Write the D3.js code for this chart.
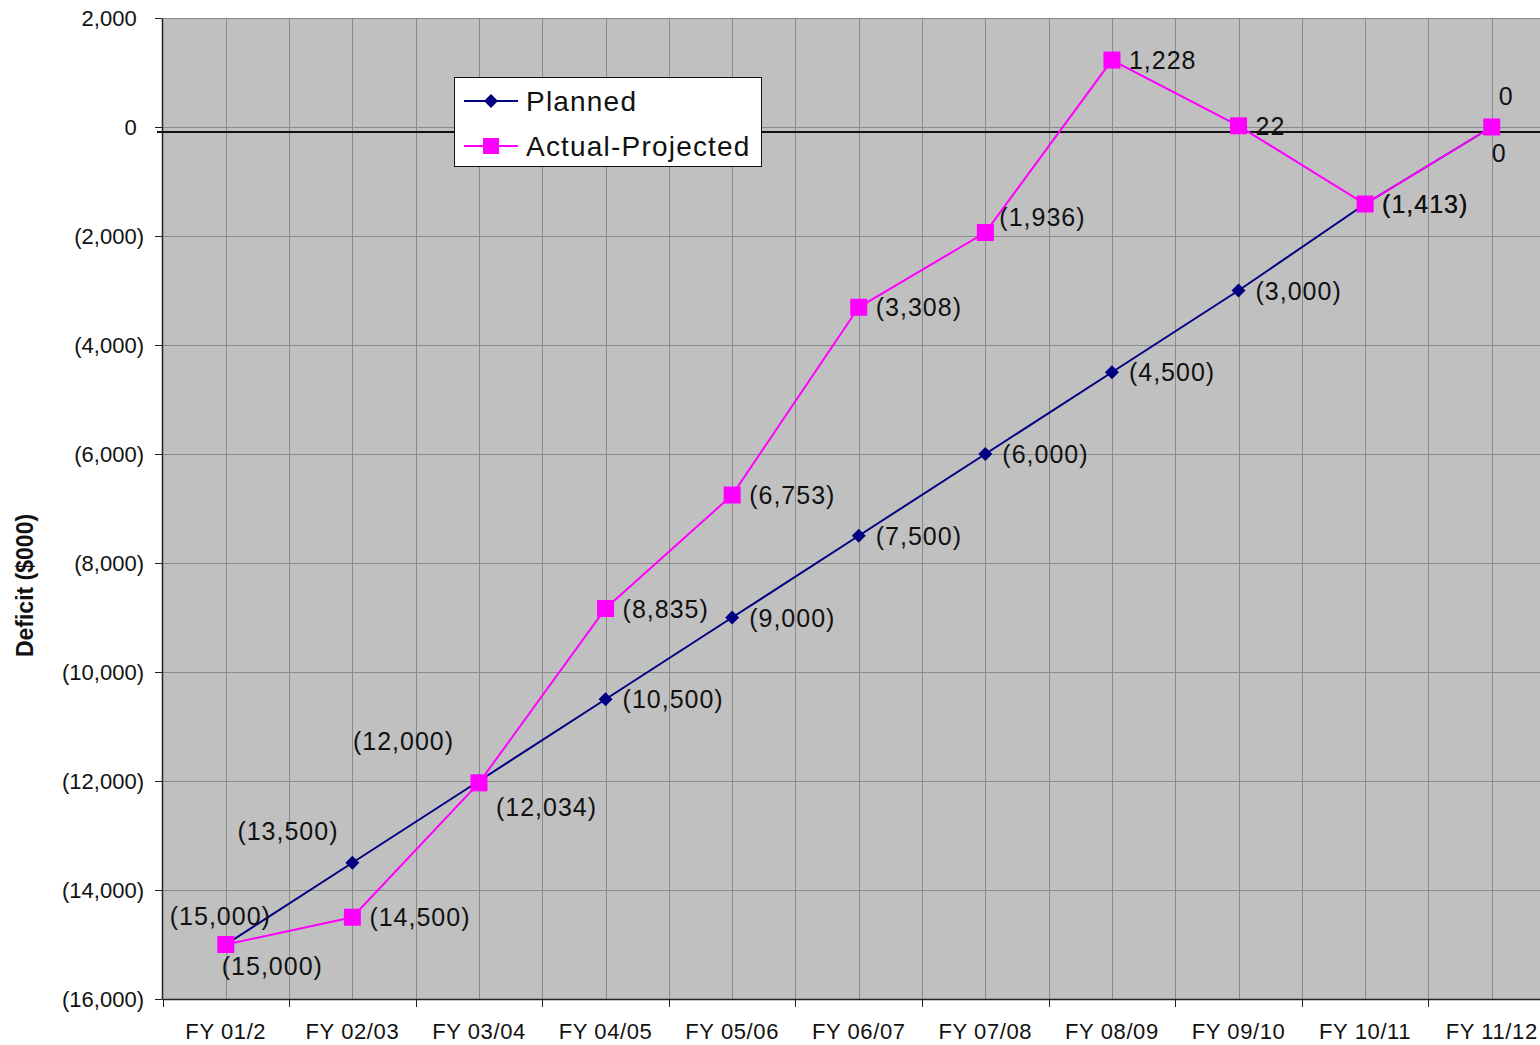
<!DOCTYPE html>
<html>
<head>
<meta charset="utf-8">
<script src="https://cdn.jsdelivr.net/npm/d3@7"></script>
<style>
  html, body { margin: 0; padding: 0; background: #fff; overflow: hidden; }
  svg { display: block; font-family: "Liberation Sans", Arial, sans-serif; }
</style>
</head>
<body>
<svg id="chart" width="1540" height="1045"></svg>
<script>
// ---- data ----
const categories = ["FY 01/2", "FY 02/03", "FY 03/04", "FY 04/05", "FY 05/06", "FY 06/07",
                    "FY 07/08", "FY 08/09", "FY 09/10", "FY 10/11", "FY 11/12"];
const planned = [-15000, -13500, -12000, -10500, -9000, -7500, -6000, -4500, -3000, -1413, 0];
const actualProjected = [-15000, -14500, -12034, -8835, -6753, -3308, -1936, 1228, 22, -1413, 0];
const yTicks = [2000, 0, -2000, -4000, -6000, -8000, -10000, -12000, -14000, -16000];
const seriesNames = ["Planned", "Actual-Projected"];
const yTitle = "Deficit ($000)";

// ---- label placement (style config, not data) ----
const plannedLabelOffsets = [[-56, -29], [-115, -32], [-126, -40], [17, 0], [17, 0], [17, 0],
                             [17, 0], [17, 0], [17, 0], [17, 0], [7, -31]];
const actualLabelOffsets = [[-4, 21], [17, 0], [17, 24], [17, 0], [17, 0], [17, 0],
                            [14, -16], [17, 0], [17, 0], [17, 0], [0, 26]];

(function () {
const svg = d3.select("#chart");
const pLeft = 162.5, pRight = 1555, pTop = 18, pBottom = 999;

const x = d3.scaleBand().domain(categories).range([pLeft, pRight]).paddingInner(0).paddingOuter(0);
const y = d3.scaleLinear().domain([-16000, 2000]).range([pBottom, pTop]);
const cx = c => x(c) + x.bandwidth() / 2;

const fmt = v => {
  const s = d3.format(",")(Math.abs(v));
  return v < 0 ? "(" + s + ")" : s;
};

// plot background
svg.append("rect").attr("x", 162).attr("y", pTop)
  .attr("width", pRight - 162).attr("height", pBottom - pTop).attr("fill", "#c0c0c0");

// horizontal gridlines
svg.append("g").selectAll("line").data(yTicks).join("line")
  .attr("x1", 162).attr("x2", pRight)
  .attr("y1", d => Math.round(y(d)) + 0.5).attr("y2", d => Math.round(y(d)) + 0.5)
  .attr("stroke", "#8a8a8a").attr("stroke-width", 1);

// vertical gridlines at category centres and boundaries
const vLines = [];
categories.forEach(c => { vLines.push(x(c)); vLines.push(cx(c)); });
svg.append("g").selectAll("line").data(vLines.filter(v => v > pLeft + 1)).join("line")
  .attr("x1", d => Math.round(d) + 0.5).attr("x2", d => Math.round(d) + 0.5)
  .attr("y1", pTop).attr("y2", pBottom)
  .attr("stroke", "#8a8a8a").attr("stroke-width", 1);

// y axis
const yAxis = d3.axisLeft(y).tickValues(yTicks).tickSize(7).tickSizeOuter(0).tickFormat("");
const gy = svg.append("g").attr("transform", `translate(162,0)`).call(yAxis);
gy.select(".domain").attr("stroke", "#222").attr("stroke-width", 1.5);
gy.selectAll(".tick line").attr("stroke", "#222");
// y tick labels (positive numbers padded by an invisible ')' like Excel's _) format)
const yl = svg.append("g").selectAll("text").data(yTicks).join("text")
  .attr("x", 144).attr("y", d => y(d) + 8)
  .attr("text-anchor", "end").attr("font-size", 22).attr("fill", "#111");
yl.append("tspan").text(d => fmt(d));
yl.filter(d => d >= 0).append("tspan").attr("fill-opacity", 0).text(")");

// x axis
const xAxis = d3.axisBottom(x).tickSize(0).tickSizeOuter(0).tickFormat("");
const gx = svg.append("g").attr("transform", `translate(0,${pBottom})`).call(xAxis);
gx.select(".domain").attr("stroke", "#222").attr("stroke-width", 1.5);
svg.append("g").selectAll("line").data(categories).join("line")
  .attr("x1", d => Math.round(x(d)) + 0.5).attr("x2", d => Math.round(x(d)) + 0.5)
  .attr("y1", pBottom).attr("y2", pBottom + 8).attr("stroke", "#222");
svg.append("g").selectAll("text").data(categories).join("text")
  .attr("x", d => cx(d)).attr("y", 1039)
  .attr("text-anchor", "middle").attr("font-size", 22).attr("letter-spacing", 0.6)
  .attr("fill", "#111")
  .text(d => d);

// zero reference line (black)
svg.append("line").attr("x1", 157).attr("x2", pRight)
  .attr("y1", y(0) + 5).attr("y2", y(0) + 5)
  .attr("stroke", "#111").attr("stroke-width", 2);

// y title
svg.append("text")
  .attr("transform", `translate(33,${(pTop + pBottom) / 2 + 77}) rotate(-90)`)
  .attr("text-anchor", "middle").attr("font-size", 23).attr("font-weight", "bold")
  .attr("fill", "#111").text(yTitle);

// series
const line = d3.line().x((d, i) => cx(categories[i])).y(d => y(d));

const navy = "#000080", magenta = "#ff00ff";

svg.append("path").datum(planned).attr("d", line)
  .attr("fill", "none").attr("stroke", navy).attr("stroke-width", 2);
svg.append("g").selectAll("path").data(planned).join("path")
  .attr("transform", (d, i) => `translate(${cx(categories[i])},${y(d)})`)
  .attr("d", "M0,-7L7,0L0,7L-7,0Z").attr("fill", navy);

svg.append("path").datum(actualProjected).attr("d", line)
  .attr("fill", "none").attr("stroke", magenta).attr("stroke-width", 2);
svg.append("g").selectAll("rect").data(actualProjected).join("rect")
  .attr("x", (d, i) => cx(categories[i]) - 8.5).attr("y", d => y(d) - 8.5)
  .attr("width", 17).attr("height", 17).attr("fill", magenta);

// data labels
function labels(values, offsets) {
  svg.append("g").selectAll("text").data(values).join("text")
    .attr("x", (d, i) => cx(categories[i]) + offsets[i][0])
    .attr("y", (d, i) => y(d) + offsets[i][1] + 9)
    .attr("font-size", 25).attr("letter-spacing", 1).attr("fill", "#111")
    .text(d => fmt(d));
}
labels(planned, plannedLabelOffsets);
labels(actualProjected, actualLabelOffsets);

// legend
const lg = svg.append("g");
lg.append("rect").attr("x", 454.5).attr("y", 77.5).attr("width", 307).attr("height", 89)
  .attr("fill", "#fff").attr("stroke", "#111").attr("stroke-width", 1);
const legendRows = [
  { name: seriesNames[0], color: navy, shape: "diamond", cy: 101 },
  { name: seriesNames[1], color: magenta, shape: "square", cy: 146 }
];
legendRows.forEach(r => {
  lg.append("line").attr("x1", 464).attr("x2", 518).attr("y1", r.cy).attr("y2", r.cy)
    .attr("stroke", r.color).attr("stroke-width", 2);
  if (r.shape === "diamond") {
    lg.append("path").attr("transform", `translate(491,${r.cy})`)
      .attr("d", "M0,-7L7,0L0,7L-7,0Z").attr("fill", r.color);
  } else {
    lg.append("rect").attr("x", 483).attr("y", r.cy - 8).attr("width", 16).attr("height", 16)
      .attr("fill", r.color);
  }
  lg.append("text").attr("x", 526).attr("y", r.cy + 10).attr("font-size", 28)
    .attr("letter-spacing", 1.2).attr("fill", "#111").text(r.name);
});
})();
</script>
</body>
</html>
